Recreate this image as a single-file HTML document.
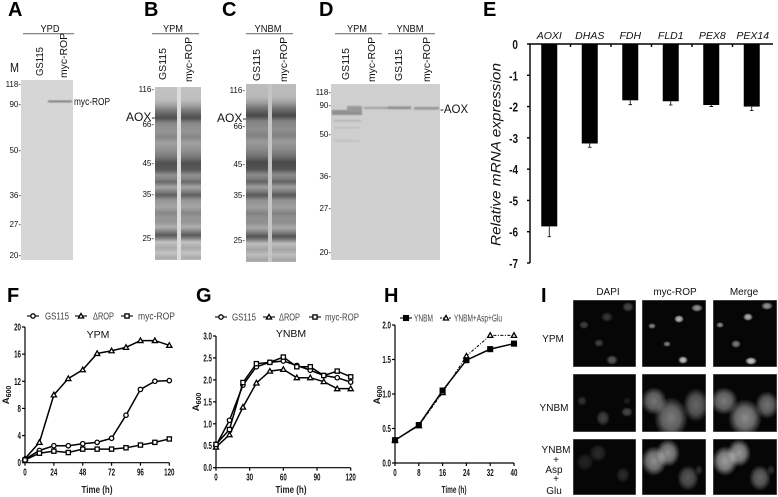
<!DOCTYPE html>
<html><head><meta charset="utf-8"><style>
html,body{margin:0;padding:0;background:#fff}
svg{display:block}
text{font-family:"Liberation Sans",sans-serif;fill:#111}
.p{font-size:20px;font-weight:bold;fill:#000}
</style></head><body>
<svg id="fig" width="778" height="497" viewBox="0 0 778 497" xmlns="http://www.w3.org/2000/svg">
<defs>
<filter id="b1" x="-50%" y="-50%" width="200%" height="200%"><feGaussianBlur stdDeviation="0.8"/></filter>
<radialGradient id="glow"><stop offset="0" stop-color="#fff" stop-opacity="1"/><stop offset="0.55" stop-color="#fff" stop-opacity="0.75"/><stop offset="1" stop-color="#fff" stop-opacity="0"/></radialGradient>
</defs>
<rect width="778" height="497" fill="#fff"/>
<g>
<text class="p" x="8" y="16">A</text><text class="p" x="144" y="16">B</text><text class="p" x="222" y="16">C</text><text class="p" x="319" y="16">D</text><text class="p" x="483" y="16">E</text>
<text class="p" x="7" y="302">F</text><text class="p" x="196" y="302">G</text><text class="p" x="384" y="302">H</text><text class="p" x="541" y="302">I</text>
</g>
<g id="blots" font-size="9">
<g fill="none" stroke="#777" stroke-width="1.2">
<path d="M23 33.7H74M152 33.7H199M246 33.7H293M335 33.7H382M388 33.7H435"/></g>
<g font-size="10" text-anchor="middle">
<text x="50" y="32" textLength="19" lengthAdjust="spacingAndGlyphs">YPD</text><text x="173" y="32" textLength="20" lengthAdjust="spacingAndGlyphs">YPM</text><text x="268" y="32" textLength="27" lengthAdjust="spacingAndGlyphs">YNBM</text><text x="357" y="32" textLength="20" lengthAdjust="spacingAndGlyphs">YPM</text><text x="410" y="32" textLength="27" lengthAdjust="spacingAndGlyphs">YNBM</text>
</g>
<g font-size="10.5">
<text transform="translate(43 76) rotate(-90)" textLength="29" lengthAdjust="spacingAndGlyphs">GS115</text>
<text transform="translate(67 78) rotate(-90)" textLength="45" lengthAdjust="spacingAndGlyphs">myc-ROP</text>
<text transform="translate(166 80) rotate(-90)" textLength="32" lengthAdjust="spacingAndGlyphs">GS115</text>
<text transform="translate(192 82) rotate(-90)" textLength="45" lengthAdjust="spacingAndGlyphs">myc-ROP</text>
<text transform="translate(260 81) rotate(-90)" textLength="32" lengthAdjust="spacingAndGlyphs">GS115</text>
<text transform="translate(287 82) rotate(-90)" textLength="45" lengthAdjust="spacingAndGlyphs">myc-ROP</text>
<text transform="translate(349 80) rotate(-90)" textLength="32" lengthAdjust="spacingAndGlyphs">GS115</text>
<text transform="translate(375 82) rotate(-90)" textLength="45" lengthAdjust="spacingAndGlyphs">myc-ROP</text>
<text transform="translate(402 81) rotate(-90)" textLength="32" lengthAdjust="spacingAndGlyphs">GS115</text>
<text transform="translate(430 82) rotate(-90)" textLength="45" lengthAdjust="spacingAndGlyphs">myc-ROP</text>
</g>
<rect x="21" y="80" width="52" height="180" fill="#d6d6d6"/>
<rect x="48" y="100.5" width="24" height="1.8" fill="#777" filter="url(#b1)"/>
<rect x="155" y="87" width="46" height="173" fill="#dcdcdc"/>
<rect x="246" y="84" width="50" height="178" fill="#c4c4c4"/>
<rect x="331" y="84" width="109" height="176" fill="#cfcfcf"/>
<g id="lanes"></g>
<g filter="url(#b1)">
<rect x="332" y="110" width="30" height="5" fill="#8f8f8f"/><rect x="347" y="106" width="15" height="6" fill="#999"/>
<rect x="334" y="120" width="27" height="1.5" fill="#b0b0b0"/><rect x="334" y="127" width="26" height="1.5" fill="#bbb"/><rect x="334" y="140" width="26" height="1.5" fill="#bdbdbd"/>
<rect x="364" y="107" width="30" height="1.8" fill="#999"/><rect x="388" y="106.5" width="23" height="2.6" fill="#8c8c8c"/><rect x="414" y="107" width="25" height="2.6" fill="#949494"/>
</g>
<g font-size="8" text-anchor="end">
<text x="21" y="87">118-</text><text x="21" y="107">90-</text><text x="21" y="153">50-</text><text x="21" y="198">36-</text><text x="21" y="227">27-</text><text x="21" y="258">20-</text>
<text x="154" y="92">116-</text><text x="154" y="127">66-</text><text x="154" y="166">45-</text><text x="154" y="197">35-</text><text x="154" y="241">25-</text>
<text x="245" y="93">116-</text><text x="245" y="129">66-</text><text x="245" y="167">45-</text><text x="245" y="198">35-</text><text x="245" y="243">25-</text>
<text x="331" y="95">118-</text><text x="331" y="108">90-</text><text x="331" y="137">50-</text><text x="331" y="179">36-</text><text x="331" y="211">27-</text><text x="331" y="255">20-</text>
</g>
<text x="10" y="72" font-size="13" textLength="9" lengthAdjust="spacingAndGlyphs">M</text>
<text x="74" y="105" font-size="10" textLength="36" lengthAdjust="spacingAndGlyphs">myc-ROP</text>
<text x="126" y="121" font-size="12">AOX-</text>
<text x="217" y="122" font-size="12">AOX-</text>
<text x="440" y="113" font-size="11.5">-AOX</text>
</g>
<g id="charts"></g>
<g id="micro">
<g font-size="10" text-anchor="middle">
<text x="608" y="295">DAPI</text><text x="675" y="295">myc-ROP</text><text x="744" y="295">Merge</text>
<text x="553" y="342">YPM</text><text x="554" y="411">YNBM</text><text x="556" y="453">YNBM</text><text x="556" y="463">+</text><text x="554" y="473">Asp</text><text x="556" y="482">+</text><text x="554" y="494">Glu</text>
</g>
</g>
</svg>
<script>
// ---- chart data ----
var fTimes = [0,12,24,36,48,60,72,84,96,108,120];
var fGS115 = [0.5,1.8,2.5,2.5,2.8,3,3.6,7,10.8,12,12.1];
var fDROP = [0.6,3,10,12.4,13.7,16.1,16.5,17,18,18,17.3];
var fMyc = [0.4,1.4,1.7,1.5,2,2,2,2.2,2.6,3,3.5];
var fXTicks = [0,24,48,72,96,120];
var fYTicks = [0,4,8,12,16,20];
var gTimes = [0,12,24,36,48,60,72,84,96,108,120];
var gGS115 = [0.5,1.08,1.88,2.3,2.4,2.43,2.33,2.22,2.1,2.05,1.95];
var gDROP = [0.47,0.75,1.38,1.93,2.2,2.24,2.05,2.05,1.96,1.8,1.8];
var gMyc = [0.53,0.87,1.94,2.37,2.4,2.52,2.3,2.3,2.1,2.2,2.07];
var gXTicks = [0,30,60,90,120];
var gYTicks = ['0.0','0.5','1.0','1.5','2.0','2.5','3.0'];
var hTimes = [0,8,16,24,32,40];
var hYNBM = [0.33,0.55,1.05,1.49,1.65,1.73];
var hAspGlu = [0.33,0.54,1.02,1.55,1.85,1.85];
var hXTicks = [0,8,16,24,32,40];
var hYTicks = ['0.0','0.5','1.0','1.5','2.0'];
var eGenes = ['AOXI','DHAS','FDH','FLD1','PEX8','PEX14'];
var eValues = [-5.83,-3.18,-1.8,-1.83,-1.95,-2.0];
var eErrors = [0.33,0.12,0.14,0.12,0.05,0.13];
var eYTicks = [0,-1,-2,-3,-4,-5,-6,-7];

var NS='http://www.w3.org/2000/svg';
function mk(tag,attrs,parent,txt){var e=document.createElementNS(NS,tag);for(var k in attrs)e.setAttribute(k,attrs[k]);if(txt!==undefined)e.textContent=txt;parent.appendChild(e);return e;}
var charts=document.getElementById('charts');

function marker(g,kind,x,y){
  var s={fill:'#fff',stroke:'#000','stroke-width':1.3};
  if(kind==='circle'){s.cx=x;s.cy=y;s.r=2.2;return mk('circle',s,g);}
  if(kind==='tri'){s.points=(x-2.6)+','+(y+2)+' '+x+','+(y-2.6)+' '+(x+2.6)+','+(y+2);return mk('polygon',s,g);}
  if(kind==='square'){s.x=x-2.1;s.y=y-2.1;s.width=4.2;s.height=4.2;return mk('rect',s,g);}
  if(kind==='fsquare'){s.x=x-2.4;s.y=y-2.4;s.width=4.8;s.height=4.8;s.fill='#000';return mk('rect',s,g);}
}
function lineChart(o){
  var g=mk('g',{},charts);
  
  
  function X(v){return o.x0+(v-o.xMin)/(o.xMax-o.xMin)*(o.x1-o.x0);}
  function Y(v){return o.y0+(v-o.yMin)/(o.yMax-o.yMin)*(o.y1-o.y0);}
  var ax=mk('g',{stroke:'#000','stroke-width':1.2,fill:'none'},g);
  
  
  mk('path',{d:'M'+o.x0+' '+o.y1+'V'+o.y0+'H'+o.x1},ax);
  o.xTicks.forEach(function(t){
    mk('line',{x1:X(t),x2:X(t),y1:o.y0,y2:o.y0+3},ax);
    var l=mk('text',{x:X(t),y:o.y0+13,'font-size':10,'font-weight':'bold','fill':'#222','text-anchor':'middle',transform:'translate('+X(t)+' 0) scale(.62 1) translate('+(-X(t))+' 0)'},g,String(t));
    
    
  });
  o.yTicks.forEach(function(t){
    var v=parseFloat(t);
    mk('line',{x1:o.x0-3,x2:o.x0,y1:Y(v),y2:Y(v)},ax);
    var rx=o.x0-4;
    var l=mk('text',{x:rx,y:Y(v)+3.5,'font-size':10,'font-weight':'bold','fill':'#222','text-anchor':'end',transform:'translate('+rx+' 0) scale(.62 1) translate('+(-rx)+' 0)'},g,String(t));
    
    
  });
  o.series.forEach(function(s){
    var sg=mk('g',{},g);
    
    
    var pts=s.values.map(function(v,i){return X(o.times[i])+','+Y(v);}).join(' ');
    var attrs={points:pts,fill:'none',stroke:'#000','stroke-width':s.width||1.5};
    if(s.dash)attrs['stroke-dasharray']=s.dash;
    mk('polyline',attrs,sg);
    s.values.forEach(function(v,i){marker(sg,s.marker,X(o.times[i]),Y(v));});
  });
  o.legend.forEach(function(e){
    var lg=mk('g',{},g);
    
    
    var la={x1:e.mx-6,x2:e.mx+6,y1:o.legY,y2:o.legY,stroke:'#000','stroke-width':1.1};
    if(e.dash)la['stroke-dasharray']=e.dash;
    mk('line',la,lg);
    marker(lg,e.marker,e.mx,o.legY);
    mk('text',{x:e.tx,y:o.legY+3.5,'font-size':10,textLength:e.tw,lengthAdjust:'spacingAndGlyphs',style:'fill:#444'},lg,e.label);
  });
  if(o.title){
    var t=mk('text',{x:o.title.x,y:o.title.y,'font-size':10.5,'text-anchor':'middle'},g,o.title.text);
    
    
  }
  var xt=mk('text',{x:o.xLabel.x,y:o.xLabel.y,'font-size':10.5,'font-weight':'bold','text-anchor':'middle',textLength:o.xLabel.w,lengthAdjust:'spacingAndGlyphs',style:'fill:#222'},g,'Time (h)');
  
  
  var yt=mk('text',{transform:'translate('+o.yLabel.x+' '+o.yLabel.y+') rotate(-90)','font-size':9.5,'font-weight':'bold','text-anchor':'middle'},g);
  
  
  mk('tspan',{},yt,'A');
  mk('tspan',{'font-size':7,dy:2},yt,'600');
}
lineChart({name:'chart-f-ypm',x0:25,x1:169.3,y0:462.7,y1:327,xMin:0,xMax:120,yMin:0,yMax:20,times:fTimes,xTicks:fXTicks,yTicks:fYTicks,
  series:[{key:'gs115',values:fGS115,marker:'circle'},{key:'delta-rop',values:fDROP,marker:'tri'},{key:'myc-rop',values:fMyc,marker:'square'}],
  legY:316,legend:[{mx:33,tx:45,tw:24,label:'GS115',marker:'circle'},{mx:81,tx:93,tw:21,label:'ΔROP',marker:'tri'},{mx:127,tx:138,tw:37,label:'myc-ROP',marker:'square'}],
  title:{x:98,y:338,text:'YPM'},xLabel:{x:97,y:493,w:31},yLabel:{x:9,y:395}});
lineChart({name:'chart-g-ynbm',x0:216,x1:350.7,y0:467.7,y1:336,xMin:0,xMax:120,yMin:0,yMax:3,times:gTimes,xTicks:gXTicks,yTicks:gYTicks,
  series:[{key:'gs115',values:gGS115,marker:'circle'},{key:'delta-rop',values:gDROP,marker:'tri'},{key:'myc-rop',values:gMyc,marker:'square'}],
  legY:317,legend:[{mx:221,tx:232,tw:24,label:'GS115',marker:'circle'},{mx:269,tx:279,tw:21,label:'ΔROP',marker:'tri'},{mx:315,tx:325,tw:34,label:'myc-ROP',marker:'square'}],
  title:{x:291,y:337,text:'YNBM'},xLabel:{x:291,y:493,w:31},yLabel:{x:199,y:402}});
lineChart({name:'chart-h-supplement',x0:395,x1:514,y0:463,y1:325,xMin:0,xMax:40,yMin:0,yMax:2,times:hTimes,xTicks:hXTicks,yTicks:hYTicks,
  series:[{key:'ynbm-asp-glu',values:hAspGlu,marker:'tri',dash:'3 1.5 1 1.5',width:1},{key:'ynbm',values:hYNBM,marker:'fsquare',width:1.5}],
  legY:318,legend:[{mx:406,tx:414,tw:19,label:'YNBM',marker:'fsquare'},{mx:446,tx:454,tw:48,label:'YNBM+Asp+Glu',marker:'tri',dash:'2 1'}],
  xLabel:{x:454,y:493,w:25},yLabel:{x:380,y:395}});

// bar chart E
(function(){
  var g=mk('g',{},charts);
  
  
  var x0=530,x1=773,y0=44,y7=263;
  function Y(v){return y0+(0-v)/7*(y7-y0);}
  var step=(x1-x0)/eGenes.length;
  function Xc(i){return x0+step*(i+0.5)-1;}
  eGenes.forEach(function(n,i){
    var b=mk('rect',{x:Xc(i)-8,y:y0,width:16,height:Y(eValues[i])-y0,fill:'#000'},g);
    
    
    var e=mk('path',{d:'M'+Xc(i)+' '+Y(eValues[i])+'V'+Y(eValues[i]-eErrors[i])+'M'+(Xc(i)-1.8)+' '+Y(eValues[i]-eErrors[i])+'H'+(Xc(i)+1.8),stroke:'#000','stroke-width':.8,fill:'none'},g);
    
    
    var t=mk('text',{x:Xc(i)+(i>3?1:0),y:39,'font-size':10.5,'font-style':'italic','text-anchor':'middle'},g,n);
    
    
    if(i<5)mk('line',{x1:x0+step*(i+1),x2:x0+step*(i+1),y1:y0,y2:y0+3,stroke:'#000','stroke-width':1.4},g);
  });
  mk('path',{d:'M'+x1+' '+y0+'H'+x0+'V'+y7,stroke:'#000','stroke-width':1.4,fill:'none'},g);
  eYTicks.forEach(function(t){
    mk('line',{x1:x0-3,x2:x0,y1:Y(t),y2:Y(t),stroke:'#000','stroke-width':1.4},g);
    var l=mk('text',{x:518,y:Y(t)+5,'font-size':12.5,'font-weight':'bold','text-anchor':'end',transform:'translate(518 0) scale(.8 1) translate(-518 0)'},g,String(t));
    
    
  });
  var yt=mk('text',{transform:'translate(500.5 246) rotate(-90)','font-size':13.5,'font-style':'italic',textLength:183,lengthAdjust:'spacingAndGlyphs'},g,'Relative mRNA expression');
  
  
})();

// gel lane intensity profiles: [y, grey]
var laneProfile=[[0,195],[13,190],[18,165],[23,125],[27,100],[31,80],[36,135],[44,150],[50,135],[56,160],[63,145],[70,120],[76,80],[83,90],[88,145],[92,130],[95,105],[100,165],[105,125],[108,95],[113,150],[120,165],[126,135],[130,150],[135,150],[140,175],[145,125],[148,90],[151,125],[155,195],[161,170],[166,195],[171,170],[173,185]];
var laneSpecs=[[155,22,87,0],[181,20,87,0],[246,22,84,1],[272,24,84,1]];
var lanes=document.getElementById('lanes');
var defs=document.querySelector('defs');
laneSpecs.forEach(function(l,i){
  var id='lg'+i;
  var lg=mk('linearGradient',{id:id,x1:0,y1:0,x2:0,y2:1},defs);
  var h=173+(l[3]?5:0);
  laneProfile.forEach(function(p){
    var v=Math.round(p[1]+(l[3]?-6:0));
    mk('stop',{offset:Math.min(1,p[0]/173),'stop-color':'rgb('+v+','+v+','+v+')'},lg);
  });
  var r=mk('rect',{x:l[0],y:l[2],width:l[1],height:h,fill:'url(#'+id+')'},lanes);
  
  
});

// microscopy: [cx, cy, rx, ry, brightness]
var microCols=[[573,63],[642,64],[713,64]];
var microRows=[[300,67],[374,58],[439,56]];
var microBlobs=[
 [[[34,17,6,5,50],[11,25,5,4,65],[26,43,5,4,65],[39,60,6,5,90],[55,7,6,5,70]],
  [[37,19,5,4,190],[10,26,4,3,130],[25,44,4,3,125],[41,60,5,4,200],[55,8,6,4,150]],
  [[35,17,5,4,180],[7,25,4,3,140],[23,44,5,4,125],[38,61,6,4,210],[54,6,6,4,150]]],
 [[[9,27,5,5,45],[30,44,7,8,65],[54,38,6,5,70],[54,27,4,4,25]],
  [[12,27,13,14,115],[29,44,17,21,120],[54,31,13,17,100]],
  [[11,27,14,14,120],[32,44,17,19,135],[54,31,12,14,110]]],
 [[[12,23,9,9,30],[25,14,9,9,38],[50,36,7,8,38]],
  [[12,22,13,15,140],[26,14,12,14,140],[46,39,11,13,85],[57,31,4,5,40]],
  [[12,22,13,15,155],[26,14,12,14,150],[47,39,11,13,100],[58,31,4,5,40]]]
];
var micro=document.getElementById('micro');
microRows.forEach(function(r,ri){
  microCols.forEach(function(c,ci){
    var g=mk('svg',{x:c[0],y:r[0],width:c[1],height:r[1]},micro);
    
    
    mk('rect',{x:0,y:0,width:c[1],height:r[1],fill:'#060606',stroke:'#777','stroke-width':1},g);
    microBlobs[ri][ci].forEach(function(b){
      mk('ellipse',{cx:b[0],cy:b[1],rx:b[2],ry:b[3],fill:'url(#glow)','fill-opacity':(b[4]/255).toFixed(2)},g);
    });
  });
});
</script>
</body></html>
